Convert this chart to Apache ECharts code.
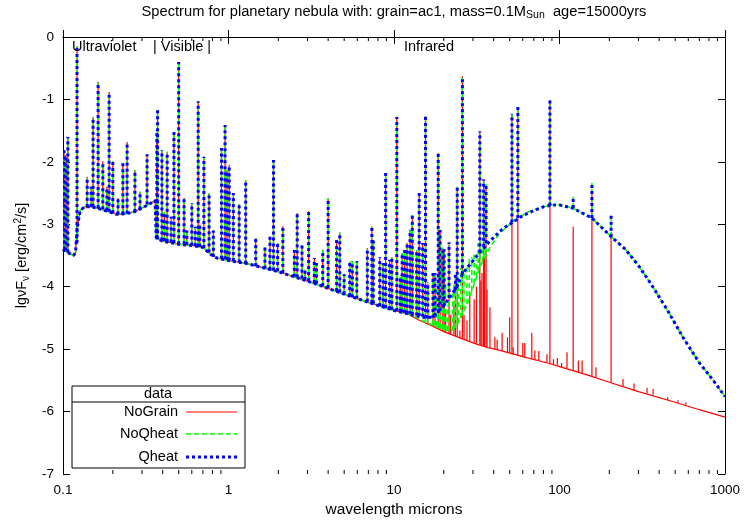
<!DOCTYPE html>
<html>
<head>
<meta charset="utf-8">
<script src="https://cdn.jsdelivr.net/npm/echarts@6/dist/echarts.min.js"></script>
<style>
  html, body { margin: 0; padding: 0; background: #fff; }
  #main { width: 744px; height: 525px; }
</style>
</head>
<body>
<div id="main"></div>
<script>
// continuum, [wavelength (micron), lg nuFnu], same for all runs below 12 micron
var contShared = [
    [0.1, -3.40], [0.105, -3.44], [0.11, -3.47], [0.116, -3.50], [0.119, -3.45], [0.122, -3.05],
    [0.127, -2.78], [0.135, -2.72], [0.15, -2.72], [0.17, -2.76], [0.19, -2.80], [0.21, -2.84],
    [0.24, -2.83], [0.27, -2.80], [0.30, -2.74], [0.33, -2.68], [0.36, -2.62], [0.366, -3.22],
    [0.40, -3.27], [0.50, -3.32], [0.60, -3.34], [0.70, -3.37], [0.78, -3.48], [0.85, -3.54],
    [1.0, -3.58], [1.3, -3.63], [1.7, -3.71], [2.0, -3.76], [2.7, -3.87], [3.5, -3.97],
    [5.0, -4.12], [7.0, -4.25], [10, -4.38], [12, -4.43]
];
var contQheat = [
    [14, -4.47], [15, -4.49], [17, -4.49], [20, -4.30], [22, -4.15], [24, -4.00], [26, -3.79],
    [28, -3.68], [33, -3.45], [38, -3.27], [45, -3.08], [52, -2.97], [60, -2.86], [70, -2.78],
    [80, -2.72], [90, -2.69], [100, -2.69], [120, -2.74], [157, -2.90], [200, -3.17], [250, -3.40],
    [300, -3.66], [352, -3.93], [450, -4.38], [557, -4.81], [700, -5.22], [850, -5.50], [1000, -5.76]
];
var contNoQheat = [
    [14, -4.50], [15, -4.55], [17, -4.61], [20, -4.69], [22, -4.71], [24, -4.62], [26, -4.43],
    [28, -4.25], [30, -4.02], [33, -3.69], [38, -3.37], [43, -3.16], [48, -3.04], [52, -2.97],
    [57, -2.89], [65, -2.80], [80, -2.72], [90, -2.69], [100, -2.69], [120, -2.74], [157, -2.90],
    [200, -3.17], [250, -3.40], [300, -3.66], [352, -3.93], [450, -4.38], [557, -4.81], [700, -5.22],
    [850, -5.50], [1000, -5.76]
];
var contNoGrain = [
    [14, -4.53], [17, -4.63], [20, -4.72], [25, -4.82], [30, -4.90], [36, -4.97], [43.6, -5.02],
    [60, -5.12], [87, -5.23], [100, -5.28], [150, -5.42], [200, -5.53], [300, -5.68], [500, -5.85],
    [700, -5.97], [1000, -6.09]
];

// emission lines [wavelength, base, peak], shared by all runs
var lineShared = [
    [0.1014, -3.40, -1.81], [0.104, -3.42, -1.89], [0.107, -3.45, -1.60], [0.1215, -3.30, -0.15],
    [0.140, -2.72, -2.24], [0.148, -2.72, -2.40], [0.152, -2.72, -1.28], [0.163, -2.74, -0.72],
    [0.174, -2.76, -1.99], [0.184, -2.78, -2.40], [0.190, -2.80, -0.88], [0.200, -2.82, -1.99],
    [0.215, -2.84, -2.58], [0.230, -2.84, -2.02], [0.244, -2.83, -1.68], [0.272, -2.80, -2.13],
    [0.292, -2.76, -2.48], [0.322, -2.68, -1.88], [0.369, -3.22, -1.54], [0.3727, -3.24, -1.17],
    [0.396, -3.26, -1.81], [0.41, -3.27, -2.80], [0.426, -3.28, -1.84], [0.45, -3.29, -2.88],
    [0.468, -3.30, -1.52], [0.500, -3.32, -0.40], [0.539, -3.32, -2.58], [0.56, -3.33, -3.10],
    [0.60, -3.34, -2.66], [0.63, -3.35, -3.04], [0.656, -3.36, -1.03], [0.67, -3.36, -3.02],
    [0.71, -3.38, -1.92], [0.763, -3.45, -2.50], [0.81, -3.52, -3.10], [0.907, -3.55, -1.78],
    [0.953, -3.56, -1.41], [0.98, -3.57, -2.13], [1.01, -3.58, -2.05], [1.07, -3.59, -2.50],
    [1.16, -3.61, -2.68], [1.27, -3.63, -2.29], [1.46, -3.67, -3.22], [1.66, -3.71, -3.37],
    [1.78, -3.73, -3.20], [1.87, -3.74, -1.97], [1.98, -3.75, -3.30], [2.13, -3.78, -3.03],
    [2.5, -3.84, -3.41], [2.6, -3.85, -2.82], [2.78, -3.87, -3.33], [2.9, -3.89, -3.73],
    [3.05, -3.91, -2.79], [3.3, -3.94, -3.54], [3.4, -3.95, -3.62], [3.71, -3.99, -3.41],
    [4.0, -4.02, -2.58], [4.5, -4.07, -3.25], [4.7, -4.09, -3.13], [5.0, -4.12, -3.80],
    [5.4, -4.15, -3.60], [5.6, -4.17, -3.59], [5.96, -4.19, -3.59], [6.9, -4.24, -3.38],
    [7.35, -4.26, -3.04], [7.5, -4.27, -3.25], [8.2, -4.31, -3.53], [8.6, -4.33, -3.62],
    [8.9, -4.34, -2.18], [9.4, -4.36, -3.57], [9.7, -4.37, -3.53], [10.4, -4.39, -1.28],
    [10.9, -4.40, -3.85], [11.2, -4.41, -3.46], [11.6, -4.42, -3.41], [12.0, -4.43, -3.30],
    [12.5, -4.44, -3.09], [12.9, -4.45, -2.85], [13.7, -4.46, -3.41], [14.2, -4.47, -2.50],
    [14.9, -4.48, -3.30]
];

// infrared lines, base differs for each run
var farWl = [15.5, 16.0, 17.2, 17.7, 18.5, 19.0, 19.7, 20.1, 21.5, 23.5, 24.1, 25.9, 33.0, 34.8, 36.0, 51.6, 56.0, 87.5, 121, 157, 205];
var farPeak = [-1.27, -3.93, -3.78, -3.78, -1.86, -3.09, -3.37, -3.40, -3.29, -3.78, -2.40, -0.63, -1.51, -2.28, -2.36, -1.23, -1.12, -1.01, -2.56, -2.34, -2.85];
var farPeakNoGrain = [-1.27, -3.95, -3.80, -3.80, -1.86, -3.10, -3.40, -3.43, -3.32, -3.85, -2.42, -0.63, -1.52, -2.30, -2.38, -1.25, -1.14, -1.02, -3.04, -2.50, -3.15];
var farBaseQheat = [-4.50, -4.51, -4.50, -4.48, -4.42, -4.38, -4.33, -4.30, -4.18, -4.05, -4.00, -3.80, -3.45, -3.36, -3.30, -2.97, -2.90, -2.70, -2.74, -2.90, -3.20];
var farBaseNoQheat = [-4.56, -4.58, -4.61, -4.62, -4.64, -4.66, -4.68, -4.69, -4.70, -4.66, -4.62, -4.45, -3.69, -3.55, -3.45, -2.98, -2.90, -2.70, -2.74, -2.90, -3.20];
var farBaseNoGrain = [-4.58, -4.60, -4.63, -4.64, -4.67, -4.69, -4.71, -4.72, -4.75, -4.79, -4.80, -4.83, -4.93, -4.95, -4.97, -5.08, -5.10, -5.24, -5.34, -5.43, -5.54];

// weak lines only visible in one run
var lineNoQheat = [
    [18.0, -4.63, -4.00], [19.5, -4.68, -4.21], [20.5, -4.69, -3.95], [21.0, -4.70, -4.30],
    [22.6, -4.70, -4.10], [23.0, -4.69, -3.95], [24.5, -4.58, -3.85], [25.3, -4.50, -3.70],
    [26.5, -4.38, -3.78], [27.6, -4.28, -3.69], [28.5, -4.15, -3.55], [29.5, -4.07, -3.53],
    [30.5, -3.95, -3.48], [31.5, -3.85, -3.57], [32.2, -3.75, -3.30], [34.2, -3.60, -3.37],
    [35.5, -3.50, -3.14]
];
var lineNoGrain = [
    [20.5, -4.73, -4.40], [22.0, -4.76, -4.45], [23.0, -4.78, -4.30], [25.0, -4.82, -4.70],
    [26.5, -4.84, -4.45], [27.6, -4.86, -4.54], [28.7, -4.88, -4.10], [30.5, -4.90, -4.20],
    [31.5, -4.91, -4.00], [33.5, -4.94, -3.90], [34.0, -4.94, -3.78], [35.2, -4.96, -3.53],
    [36.5, -4.97, -4.05], [38.0, -4.98, -4.33], [40.7, -5.00, -4.81], [42.0, -5.01, -4.85],
    [45.0, -5.03, -4.74], [48.5, -5.05, -4.81], [50.0, -5.06, -4.49], [52.5, -5.08, -4.97],
    [60.0, -5.12, -4.90], [61.7, -5.13, -4.90], [68.0, -5.16, -4.74], [71.0, -5.17, -5.02],
    [75.0, -5.18, -5.03], [84.0, -5.21, -5.08], [92.0, -5.24, -5.16], [97.0, -5.26, -5.14],
    [103, -5.29, -5.22], [111, -5.31, -5.05], [130, -5.37, -5.18], [137, -5.39, -5.18],
    [166, -5.45, -5.29], [242, -5.60, -5.48], [282, -5.66, -5.55], [338, -5.71, -5.62],
    [368, -5.73, -5.64], [450, -5.81, -5.77], [520, -5.86, -5.82], [580, -5.89, -5.85]
];

var yTicks = [-7, -6, -5, -4, -3, -2, -1, 0];
var minorTicks = [0.2, 0.3, 0.4, 0.5, 0.6, 0.7, 0.8, 0.9, 2, 3, 4, 5, 6, 7, 8, 9,
    20, 30, 40, 50, 60, 70, 80, 90, 200, 300, 400, 500, 600, 700, 800, 900];

var FONT = 'Liberation Sans';

var styles = {
    NoGrain: {color: '#ff0000', width: 1.2, dash: null, z: 3},
    NoQheat: {color: '#00ff00', width: 1.6, dash: [5, 3], z: 4},
    Qheat: {color: '#0000ff', width: 3, dash: [3, 3], z: 5}
};

function farLines(base, peak) {
    var out = [];
    for (var i = 0; i < farWl.length; i++) {
        out.push([farWl[i], base[i], peak[i]]);
    }
    return out;
}

function contSeries(name, data) {
    var s = styles[name];
    return {
        name: name,
        type: 'line',
        data: data,
        showSymbol: false,
        symbol: 'none',
        silent: true,
        z: s.z,
        lineStyle: {color: s.color, width: s.width, type: s.dash || 'solid'}
    };
}

// every line is its own stroke from the continuum up to the peak
function lineSeries(name, data) {
    var s = styles[name];
    return {
        name: name + ' lines',
        type: 'custom',
        data: data,
        silent: true,
        clip: true,
        z: s.z,
        encode: {x: 0, y: [1, 2]},
        renderItem: function (params, api) {
            var b = api.coord([api.value(0), api.value(1)]);
            var t = api.coord([api.value(0), api.value(2)]);
            return {
                type: 'line',
                shape: {x1: b[0], y1: b[1], x2: t[0], y2: t[1]},
                style: {stroke: s.color, lineWidth: s.width, lineDash: s.dash || null}
            };
        }
    };
}

var chart = echarts.init(document.getElementById('main'));

var xAxisBase = {
    type: 'log',
    logBase: 10,
    min: 0.1,
    max: 1000,
    axisLine: {lineStyle: {color: '#000', width: 1}},
    axisTick: {inside: true, length: 7, lineStyle: {color: '#000'}},
    splitLine: {show: false}
};

var option = {
    animation: false,
    backgroundColor: '#fff',
    grid: {left: 63, right: 19, top: 37, bottom: 51},
    xAxis: [
        Object.assign({}, xAxisBase, {
            position: 'bottom',
            name: 'wavelength microns',
            nameLocation: 'middle',
            nameGap: 27,
            nameTextStyle: {fontFamily: FONT, fontSize: 15.5, color: '#000'},
            axisLabel: {
                fontFamily: FONT, fontSize: 13.5, color: '#000', margin: 9,
                formatter: function (v) { return String(parseFloat(Number(v).toPrecision(4))); }
            }
        }),
        Object.assign({}, xAxisBase, {position: 'top', axisLabel: {show: false}})
    ],
    yAxis: [
        {
            type: 'value',
            min: yTicks[0],
            max: yTicks[yTicks.length - 1],
            interval: 1,
            position: 'left',
            name: '{a|lgνF}{s|ν}{a| [erg/cm}{p|2}{a|/s]}',
            nameLocation: 'middle',
            nameGap: 31,
            nameTextStyle: {
                color: '#000',
                rich: {
                    a: {fontFamily: FONT, fontSize: 14.5, color: '#000', lineHeight: 18, verticalAlign: 'middle'},
                    s: {fontFamily: FONT, fontSize: 10, color: '#000', lineHeight: 11, verticalAlign: 'bottom'},
                    p: {fontFamily: FONT, fontSize: 10, color: '#000', lineHeight: 11, verticalAlign: 'top'}
                }
            },
            axisLine: {show: true, lineStyle: {color: '#000', width: 1}},
            axisTick: {show: true, inside: true, length: 7, lineStyle: {color: '#000'}},
            axisLabel: {fontFamily: FONT, fontSize: 13.5, color: '#000', margin: 9},
            splitLine: {show: false}
        },
        {
            type: 'value',
            min: yTicks[0],
            max: yTicks[yTicks.length - 1],
            interval: 1,
            position: 'right',
            axisLine: {show: true, lineStyle: {color: '#000', width: 1}},
            axisTick: {show: true, inside: true, length: 7, lineStyle: {color: '#000'}},
            axisLabel: {show: false},
            splitLine: {show: false}
        }
    ],
    series: [
        contSeries('NoGrain', contShared.concat(contNoGrain)),
        lineSeries('NoGrain', lineShared.concat(farLines(farBaseNoGrain, farPeakNoGrain), lineNoGrain)),
        contSeries('NoQheat', contShared.concat(contNoQheat)),
        lineSeries('NoQheat', lineShared.concat(farLines(farBaseNoQheat, farPeak), lineNoQheat)),
        contSeries('Qheat', contShared.concat(contQheat)),
        lineSeries('Qheat', lineShared.concat(farLines(farBaseQheat, farPeak))),
        {
            name: 'minor',
            type: 'custom',
            silent: true,
            z: 6,
            data: minorTicks.map(function (v) { return [v, yTicks[0]]; }),
            encode: {x: 0, y: 1},
            renderItem: function (params, api) {
                var v = api.value(0);
                var b = api.coord([v, yTicks[0]]);
                var t = api.coord([v, yTicks[yTicks.length - 1]]);
                return {
                    type: 'group',
                    children: [
                        {type: 'line', shape: {x1: b[0], y1: b[1], x2: b[0], y2: b[1] - 4}, style: {stroke: '#000', lineWidth: 1}},
                        {type: 'line', shape: {x1: t[0], y1: t[1], x2: t[0], y2: t[1] + 4}, style: {stroke: '#000', lineWidth: 1}}
                    ]
                };
            }
        }
    ],
    graphic: [
        {
            type: 'text', x: 394, y: 12, z: 100,
            style: {
                text: '{a|Spectrum for planetary nebula with: grain=ac1, mass=0.1M}{s|Sun}{a|  age=15000yrs}',
                align: 'center', verticalAlign: 'middle',
                rich: {
                    a: {fontFamily: FONT, fontSize: 14.7, fill: '#000', lineHeight: 18, verticalAlign: 'middle'},
                    s: {fontFamily: FONT, fontSize: 10.5, fill: '#000', lineHeight: 11, verticalAlign: 'bottom'}
                }
            }
        },
        {type: 'text', x: 72, y: 47, z: 100, style: {text: 'Ultraviolet', font: '14.5px ' + FONT, fill: '#000', verticalAlign: 'middle'}},
        {type: 'text', x: 153, y: 47, z: 100, style: {text: '| Visible |', font: '14.5px ' + FONT, fill: '#000', verticalAlign: 'middle'}},
        {type: 'text', x: 404, y: 47, z: 100, style: {text: 'Infrared', font: '14.5px ' + FONT, fill: '#000', verticalAlign: 'middle'}},
        // legend box
        {type: 'rect', z: 100, shape: {x: 72, y: 386, width: 173, height: 82}, style: {fill: '#fff', stroke: '#000', lineWidth: 1}},
        {type: 'line', z: 101, shape: {x1: 72, y1: 402, x2: 245, y2: 402}, style: {stroke: '#000', lineWidth: 1}},
        {type: 'text', x: 158, y: 394, z: 101, style: {text: 'data', font: '14.5px ' + FONT, fill: '#000', align: 'center', verticalAlign: 'middle'}},
        {type: 'text', x: 178, y: 412, z: 101, style: {text: 'NoGrain', font: '14.5px ' + FONT, fill: '#000', align: 'right', verticalAlign: 'middle'}},
        {type: 'line', z: 101, shape: {x1: 186, y1: 412, x2: 237, y2: 412}, style: {stroke: '#ff0000', lineWidth: 1.2}},
        {type: 'text', x: 178, y: 434, z: 101, style: {text: 'NoQheat', font: '14.5px ' + FONT, fill: '#000', align: 'right', verticalAlign: 'middle'}},
        {type: 'line', z: 101, shape: {x1: 186, y1: 434, x2: 237, y2: 434}, style: {stroke: '#00ff00', lineWidth: 1.6, lineDash: [5, 3]}},
        {type: 'text', x: 178, y: 457, z: 101, style: {text: 'Qheat', font: '14.5px ' + FONT, fill: '#000', align: 'right', verticalAlign: 'middle'}},
        {type: 'line', z: 101, shape: {x1: 186, y1: 457, x2: 237, y2: 457}, style: {stroke: '#0000ff', lineWidth: 3, lineDash: [3, 3]}}
    ]
};

chart.setOption(option);
</script>
</body>
</html>
